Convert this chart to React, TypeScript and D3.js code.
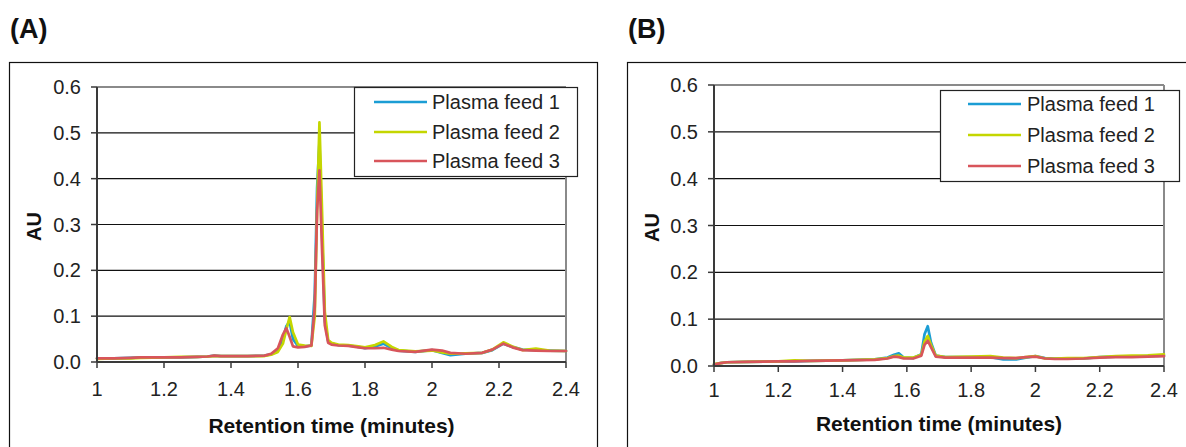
import React from "react";
import * as d3 from "d3";

// ---- Data: panel (A) ----
const timesA = [
  1.0, 1.05, 1.1, 1.13, 1.2, 1.25, 1.3, 1.33, 1.35, 1.37, 1.4, 1.45, 1.5, 1.52, 1.54, 1.555, 1.565, 1.575, 1.585, 1.6,
  1.62, 1.64, 1.65, 1.657, 1.664, 1.671, 1.68, 1.69, 1.7, 1.72, 1.75, 1.78, 1.8, 1.83, 1.855, 1.88, 1.9, 1.95, 2.0, 2.03,
  2.055, 2.1, 2.15, 2.18, 2.213, 2.24, 2.27, 2.31, 2.35, 2.4,
];
const feed1A = [
  0.008, 0.008, 0.009, 0.01, 0.01, 0.01, 0.011, 0.012, 0.014, 0.013, 0.013, 0.013, 0.014, 0.017, 0.025, 0.05, 0.078, 0.088, 0.05, 0.035,
  0.034, 0.036, 0.15, 0.38, 0.48, 0.3, 0.09, 0.045, 0.04, 0.037, 0.036, 0.033, 0.03, 0.034, 0.04, 0.03, 0.025, 0.022, 0.026, 0.02,
  0.015, 0.018, 0.02, 0.026, 0.04, 0.033, 0.027, 0.026, 0.025, 0.024,
];
const feed2A = [
  0.007, 0.008, 0.008, 0.009, 0.01, 0.011, 0.011, 0.012, 0.013, 0.013, 0.013, 0.013, 0.013, 0.016, 0.022, 0.04, 0.07, 0.098, 0.065, 0.038,
  0.036, 0.035, 0.1, 0.33, 0.523, 0.35, 0.11, 0.048, 0.042, 0.038, 0.037, 0.034, 0.032, 0.037, 0.045, 0.033, 0.026, 0.023, 0.025, 0.021,
  0.018, 0.019, 0.02, 0.027, 0.043, 0.034, 0.026, 0.029, 0.025, 0.024,
];
const feed3A = [
  0.008, 0.008, 0.009, 0.01, 0.01, 0.01, 0.011, 0.012, 0.014, 0.013, 0.013, 0.013, 0.014, 0.018, 0.03, 0.06, 0.074, 0.055, 0.034, 0.032,
  0.033, 0.036, 0.12, 0.33, 0.418, 0.26, 0.08, 0.042, 0.038, 0.036, 0.035, 0.032, 0.03, 0.03, 0.031, 0.027, 0.024, 0.022, 0.027, 0.025,
  0.02, 0.018, 0.02, 0.027, 0.04, 0.032, 0.026, 0.025, 0.024, 0.024,
];

// ---- Data: panel (B) ----
const timesB = [
  1.0, 1.02, 1.04, 1.1, 1.2, 1.25, 1.3, 1.4, 1.5, 1.54, 1.56, 1.575, 1.59, 1.62, 1.645, 1.655, 1.665, 1.675, 1.69, 1.72,
  1.8, 1.86, 1.9, 1.94, 1.97, 2.0, 2.03, 2.06, 2.1, 2.15, 2.2, 2.25, 2.3, 2.35, 2.4,
];
const feed1B = [
  0.003, 0.006, 0.008, 0.009, 0.01, 0.01, 0.011, 0.012, 0.014, 0.018, 0.024, 0.027, 0.018, 0.017, 0.025, 0.068, 0.085, 0.05, 0.022, 0.019,
  0.019, 0.019, 0.014, 0.014, 0.018, 0.021, 0.017, 0.016, 0.016, 0.016, 0.019, 0.02, 0.02, 0.021, 0.022,
];
const feed2B = [
  0.004, 0.006, 0.008, 0.009, 0.01, 0.012, 0.011, 0.012, 0.014, 0.017, 0.021, 0.022, 0.018, 0.018, 0.024, 0.052, 0.064, 0.045, 0.022, 0.019,
  0.02, 0.021, 0.018, 0.017, 0.019, 0.021, 0.016, 0.016, 0.017, 0.017, 0.019, 0.021, 0.022, 0.023, 0.025,
];
const feed3B = [
  0.003, 0.006, 0.008, 0.009, 0.01, 0.01, 0.011, 0.012, 0.013, 0.016, 0.02, 0.019, 0.016, 0.016, 0.022, 0.045, 0.054, 0.04, 0.02, 0.018,
  0.018, 0.018, 0.017, 0.017, 0.019, 0.02, 0.016, 0.015, 0.015, 0.016, 0.018, 0.019, 0.019, 0.02, 0.021,
];

const seriesNames = ["Plasma feed 1", "Plasma feed 2", "Plasma feed 3"];
const seriesColors = ["#1b9dd4", "#c4d600", "#d8555b"];
const xTicks = [1, 1.2, 1.4, 1.6, 1.8, 2, 2.2, 2.4];
const yTicks = [0, 0.1, 0.2, 0.3, 0.4, 0.5, 0.6];
const xTickLabels = ["1", "1.2", "1.4", "1.6", "1.8", "2", "2.2", "2.4"];
const yTickLabels = ["0.0", "0.1", "0.2", "0.3", "0.4", "0.5", "0.6"];

const FONT = "'Liberation Sans', Arial, Helvetica, sans-serif";

type Layout = {
  tag: string;
  boxX: number;
  plot: { left: number; right: number; top: number; bottom: number };
  xLabelY: number;
  titleY: number;
  legend: { x: number; y: number; w: number; h: number; rows: number[]; lineX0: number; lineX1: number; textX: number };
};

const layoutA: Layout = {
  tag: "(A)",
  boxX: 10,
  plot: { left: 97, right: 566, top: 87, bottom: 362 },
  xLabelY: 396,
  titleY: 433,
  legend: { x: 354, y: 87, w: 223, h: 89, rows: [102, 132, 161], lineX0: 374, lineX1: 427, textX: 432 },
};
const layoutB: Layout = {
  tag: "(B)",
  boxX: 628,
  plot: { left: 714, right: 1164, top: 85, bottom: 366 },
  xLabelY: 397,
  titleY: 431,
  legend: { x: 940, y: 90, w: 239, h: 91, rows: [104, 135, 166], lineX0: 968, lineX1: 1021, textX: 1027 },
};

function Panel({ layout, times, series }: { layout: Layout; times: number[]; series: number[][] }) {
  const { plot, legend } = layout;
  const x = d3.scaleLinear().domain([1, 2.4]).range([plot.left, plot.right]);
  const y = d3.scaleLinear().domain([0, 0.6]).range([plot.bottom, plot.top]);
  const line = d3
    .line<number>()
    .x((_, i) => x(times[i]))
    .y((v) => y(v));
  const midX = (plot.left + plot.right) / 2;

  return (
    <g>
      <text x={layout.boxX} y={38} fontFamily={FONT} fontWeight="bold" fontSize={27} fill="#111">
        {layout.tag}
      </text>
      <rect x={layout.boxX - 0.5} y={62.5} width={588} height={420} fill="none" stroke="#111" strokeWidth={1.2} />

      {/* grid lines */}
      {yTicks.slice(1, -1).map((t) => (
        <line key={t} x1={plot.left} x2={plot.right} y1={y(t)} y2={y(t)} stroke="#111" strokeWidth={1.2} />
      ))}
      {/* plot frame: grey top and right */}
      <line x1={plot.left} x2={plot.right} y1={plot.top} y2={plot.top} stroke="#8a8a8a" strokeWidth={2} />
      <line x1={plot.right} x2={plot.right} y1={plot.top} y2={plot.bottom} stroke="#8a8a8a" strokeWidth={2} />

      {/* traces */}
      {series.map((vals, i) => (
        <path
          key={i}
          d={line(vals) || ""}
          fill="none"
          stroke={seriesColors[i]}
          strokeWidth={2.7}
          strokeLinejoin="round"
          strokeLinecap="round"
        />
      ))}

      {/* axes */}
      <line x1={plot.left} x2={plot.left} y1={plot.top} y2={plot.bottom} stroke="#3a3a3a" strokeWidth={2} />
      <line x1={plot.left} x2={plot.right} y1={plot.bottom} y2={plot.bottom} stroke="#3a3a3a" strokeWidth={2} />
      {yTicks.map((t, i) => (
        <g key={t}>
          <line x1={plot.left - 6} x2={plot.left} y1={y(t)} y2={y(t)} stroke="#3a3a3a" strokeWidth={1.5} />
          <text
            x={plot.left - 16}
            y={y(t)}
            dy="0.35em"
            textAnchor="end"
            fontFamily={FONT}
            fontSize={20}
            fill="#222"
          >
            {yTickLabels[i]}
          </text>
        </g>
      ))}
      {xTicks.map((t, i) => (
        <g key={t}>
          <line x1={x(t)} x2={x(t)} y1={plot.bottom} y2={plot.bottom + 6} stroke="#3a3a3a" strokeWidth={1.5} />
          <text x={x(t)} y={layout.xLabelY} textAnchor="middle" fontFamily={FONT} fontSize={20} fill="#222">
            {xTickLabels[i]}
          </text>
        </g>
      ))}

      {/* axis titles */}
      <text x={midX} y={layout.titleY} textAnchor="middle" fontFamily={FONT} fontWeight="bold" fontSize={21} fill="#111">
        Retention time (minutes)
      </text>
      <text
        transform={`translate(${layout.boxX + 31},${(plot.top + plot.bottom) / 2 + 2}) rotate(-90)`}
        textAnchor="middle"
        fontFamily={FONT}
        fontWeight="bold"
        fontSize={20}
        fill="#111"
      >
        AU
      </text>

      {/* legend */}
      <rect x={legend.x + 0.5} y={legend.y + 0.5} width={legend.w} height={legend.h} fill="#fff" stroke="#222" strokeWidth={1.2} />
      {seriesNames.map((name, i) => (
        <g key={name}>
          <line
            x1={legend.lineX0}
            x2={legend.lineX1}
            y1={legend.rows[i]}
            y2={legend.rows[i]}
            stroke={seriesColors[i]}
            strokeWidth={2.6}
          />
          <text x={legend.textX} y={legend.rows[i]} dy="0.35em" fontFamily={FONT} fontSize={20} fill="#222">
            {name}
          </text>
        </g>
      ))}
    </g>
  );
}

export default function App() {
  return (
    <svg
      width={1186}
      height={447}
      viewBox="0 0 1186 447"
      style={{ position: "absolute", left: 0, top: 0, background: "#fff" }}
    >
      <rect width={1186} height={447} fill="#fff" />
      <Panel layout={layoutA} times={timesA} series={[feed1A, feed2A, feed3A]} />
      <Panel layout={layoutB} times={timesB} series={[feed1B, feed2B, feed3B]} />
    </svg>
  );
}
